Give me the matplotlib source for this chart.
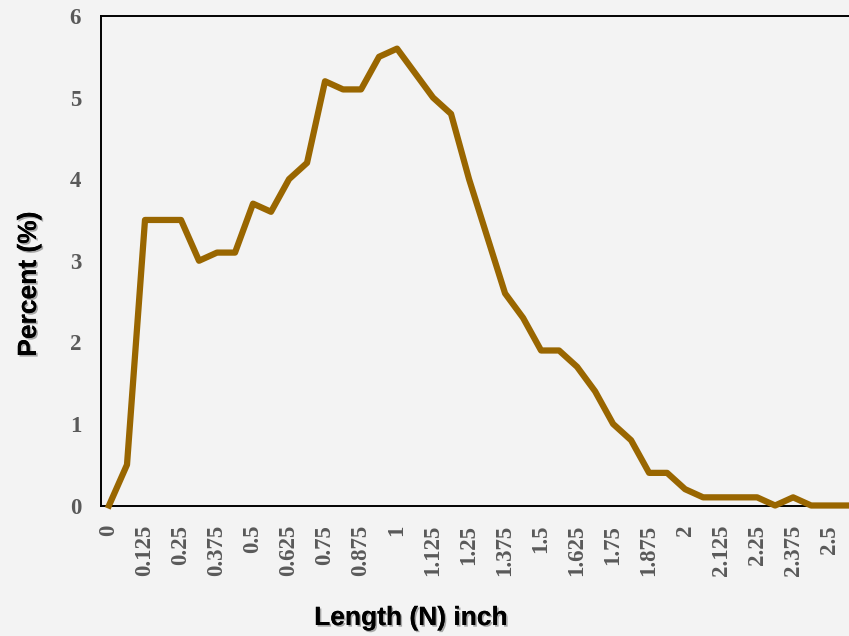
import matplotlib
matplotlib.use("Agg")
import matplotlib.pyplot as plt
import matplotlib.patheffects as pe

# length classes (inch) and percent of fibres in each class
lengths = [0, 0.0625, 0.125, 0.1875, 0.25, 0.3125, 0.375, 0.4375, 0.5, 0.5625,
           0.625, 0.6875, 0.75, 0.8125, 0.875, 0.9375, 1.0, 1.0625, 1.125, 1.1875,
           1.25, 1.3125, 1.375, 1.4375, 1.5, 1.5625, 1.625, 1.6875, 1.75, 1.8125,
           1.875, 1.9375, 2.0, 2.0625, 2.125, 2.1875, 2.25, 2.3125, 2.375, 2.4375,
           2.5, 2.5625]
percent = [0, 0.5, 3.5, 3.5, 3.5, 3.0, 3.1, 3.1, 3.7, 3.6,
           4.0, 4.2, 5.2, 5.1, 5.1, 5.5, 5.6, 5.3, 5.0, 4.8,
           4.0, 3.3, 2.6, 2.3, 1.9, 1.9, 1.7, 1.4, 1.0, 0.8,
           0.4, 0.4, 0.2, 0.1, 0.1, 0.1, 0.1, 0.0, 0.1, 0.0,
           0.0, 0.0]
xticks = [0, 0.125, 0.25, 0.375, 0.5, 0.625, 0.75, 0.875, 1, 1.125, 1.25,
          1.375, 1.5, 1.625, 1.75, 1.875, 2, 2.125, 2.25, 2.375, 2.5]
xtick_labels = ["0", "0.125", "0.25", "0.375", "0.5", "0.625", "0.75", "0.875",
                "1", "1.125", "1.25", "1.375", "1.5", "1.625", "1.75", "1.875",
                "2", "2.125", "2.25", "2.375", "2.5"]
yticks = [0, 1, 2, 3, 4, 5, 6]

W, H = 849, 636
fig = plt.figure(figsize=(W / 100, H / 100), dpi=100, facecolor="#f3f3f3")
ax = fig.add_axes([100.5 / W, 1 - 505.5 / H, 1 - 100.5 / W, (505.5 - 16) / H])
ax.set_facecolor("none")

ax.plot(lengths, percent, color="#996600", lw=4.5, clip_on=False, zorder=5)

ax.set_xlim(-0.0295, 2.569)
ax.set_ylim(0, 6)

for s in ["left", "bottom", "top"]:
    ax.spines[s].set_linewidth(1.4)
    ax.spines[s].set_color("black")
ax.spines["right"].set_visible(False)

tick_font = dict(family="Liberation Serif", weight="bold", size=16.5)
ax.set_xticks(xticks)
ax.set_xticklabels(xtick_labels, rotation=90, color="#595959", **tick_font)
ax.set_yticks(yticks)
ax.set_yticklabels([str(v) for v in yticks], color="#595959", **tick_font)
ax.tick_params(axis="both", length=0)
ax.tick_params(axis="x", pad=14)
ax.tick_params(axis="y", pad=14)

shadow = [pe.withSimplePatchShadow(offset=(1.2, -1.2), shadow_rgbFace="#777777", alpha=0.6), pe.Normal()]
fig.text(411 / W, 1 - 618 / H, "Length (N) inch", family="Liberation Sans", weight="bold",
         size=19, ha="center", va="center", path_effects=shadow)
fig.text(29 / W, 1 - 284 / H, "Percent (%)", family="Liberation Sans", weight="bold",
         size=19, rotation=90, ha="center", va="center", path_effects=shadow)

fig.savefig("out.png", dpi=100, facecolor=fig.get_facecolor())
